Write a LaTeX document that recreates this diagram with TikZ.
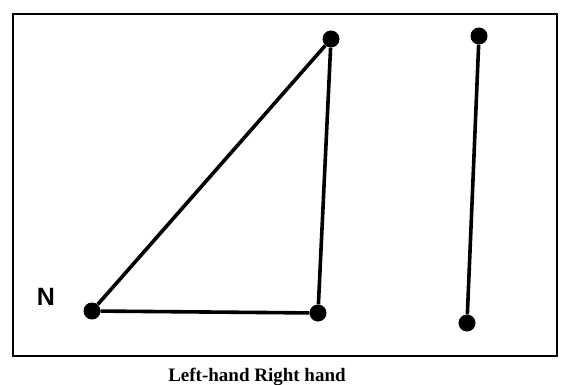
\documentclass[tikz,border=0pt]{standalone}
\usepackage{fontspec}
\setmainfont{Liberation Serif}
\setsansfont{Liberation Sans}
\usetikzlibrary{positioning}

\begin{document}
\begin{tikzpicture}[
  x=1pt, y=-1pt,
  dot/.style={circle, fill=black, inner sep=0pt, minimum size=17pt},
  edge/.style={line width=3.6pt, black},
  frame/.style={line width=2.4pt, black}
]
  \useasboundingbox (0,0) rectangle (568,385);
  \draw[frame] (13,14) rectangle (557,356);

  % left hand: triangle
  \node[dot] (lbot)   at (92,311)  {};
  \node[dot] (rbot)   at (318,313) {};
  \node[dot] (apex)   at (331,39)  {};
  % right hand: single segment
  \node[dot] (htop)   at (479,36)  {};
  \node[dot] (hbot)   at (467,323) {};

  \node[font=\sffamily\bfseries\fontsize{25}{25}\selectfont] (north) at (46,297) {N};

  \draw[edge] (lbot) -- (rbot);
  \draw[edge] (rbot) -- (apex);
  \draw[edge] (apex) -- (lbot);
  \draw[edge] (htop) -- (hbot);

  \node[font=\bfseries\fontsize{19}{19}\selectfont] (caption) at (257,377) {Left-hand Right hand};
\end{tikzpicture}
\end{document}
